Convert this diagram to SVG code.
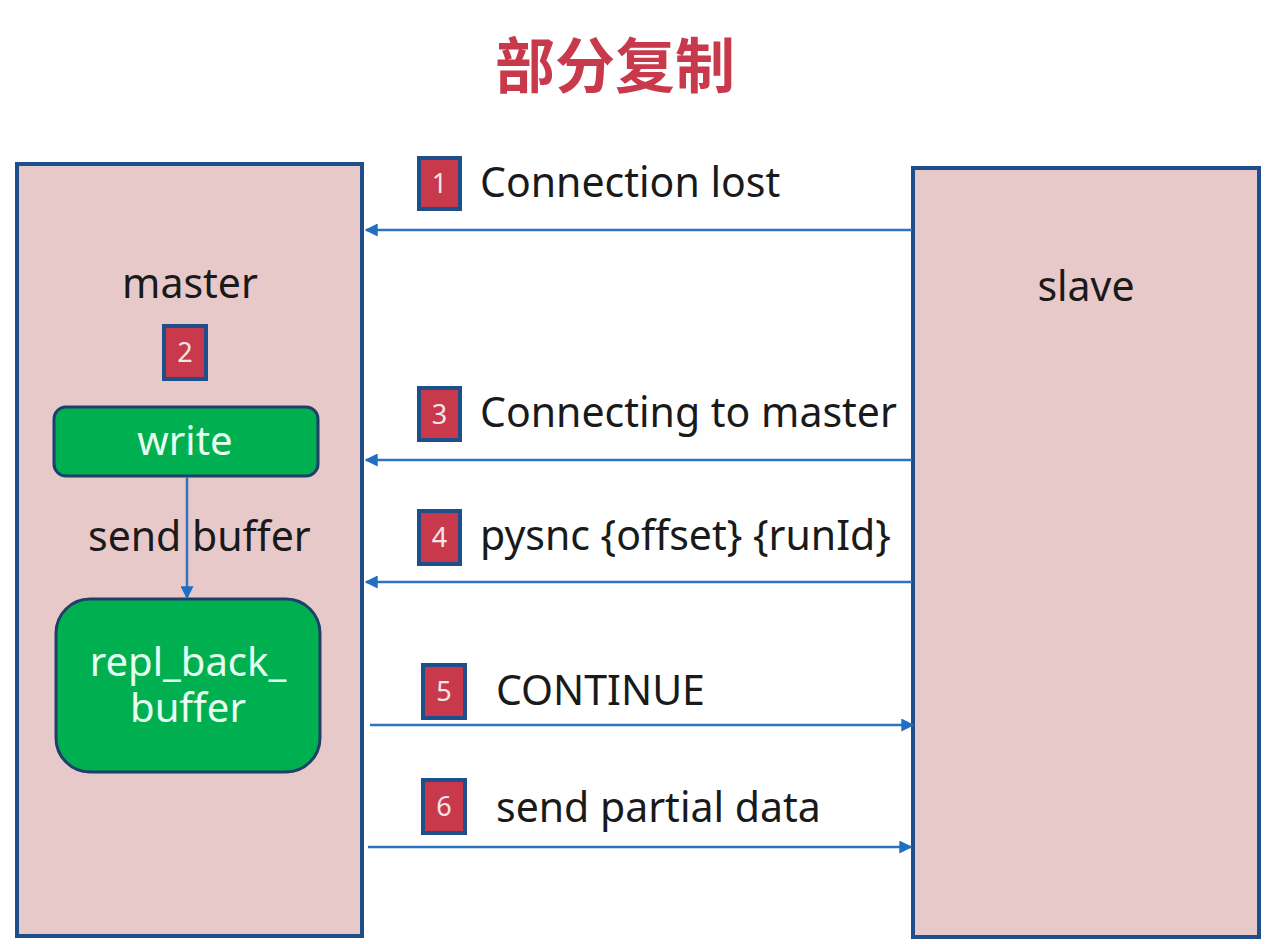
<svg xmlns="http://www.w3.org/2000/svg" width="1269" height="944" viewBox="0 0 1269 944">
<style>
.box{fill:#e8c9ca;stroke:#1f4f8a;stroke-width:4}
.gbox{fill:#00b050;stroke:#1f3f6a;stroke-width:3}
.badge{fill:#c8394b;stroke:#1f4f8a;stroke-width:4}
.bn{font-family:"Noto Sans","Open Sans",sans-serif;font-size:27px;fill:#f4e6e8;text-anchor:middle}
.t{font-family:"Noto Sans","Open Sans",sans-serif;font-size:41px;fill:#1a1a1a}
.w{font-family:"Noto Sans","Open Sans",sans-serif;font-size:40px;fill:#e6fff0;text-anchor:middle}
.ln{stroke:#2e72c0;stroke-width:2.5;fill:none}
</style>
<defs>
<marker id="ahs" viewBox="0 0 10 10" refX="9" refY="5" markerWidth="13" markerHeight="13" orient="auto" markerUnits="userSpaceOnUse">
<path d="M0,0 L10,5 L0,10 z" fill="#1f6fc4"/>
</marker>
</defs>
<rect width="1269" height="944" fill="#ffffff"/>
<text x="615" y="88" text-anchor="middle" font-family="Noto Sans CJK SC, sans-serif" font-size="60" font-weight="bold" fill="#c8394b">部分复制</text>

<g id="master">
<rect class="box" x="17" y="164" width="345" height="772"/>
<text class="t" x="190" y="298" text-anchor="middle">master</text>
</g>
<g id="slave">
<rect class="box" x="913" y="168" width="346" height="769"/>
<text class="t" x="1086" y="301" text-anchor="middle">slave</text>
</g>
<g id="write">
<rect class="gbox" x="54" y="407" width="264" height="69" rx="12"/>
<text class="w" x="185" y="455">write</text>
</g>
<g id="repl_back_buffer">
<rect class="gbox" x="56" y="599" width="264" height="173" rx="34"/>
<text class="w" x="188" y="676">repl_back_</text>
<text class="w" x="188" y="722">buffer</text>
</g>

<g id="badges">
<rect class="badge" x="419" y="158" width="41" height="51"/><text class="bn" x="439.5" y="193">1</text>
<rect class="badge" x="164" y="326" width="42" height="53"/><text class="bn" x="185" y="362">2</text>
<rect class="badge" x="419" y="388" width="41" height="52"/><text class="bn" x="439.5" y="424">3</text>
<rect class="badge" x="419" y="511" width="41" height="53"/><text class="bn" x="439.5" y="547">4</text>
<rect class="badge" x="423" y="665" width="42" height="53"/><text class="bn" x="444" y="701">5</text>
<rect class="badge" x="423" y="780" width="42" height="53"/><text class="bn" x="444" y="816">6</text>
</g>

<g id="labels">
<text class="t" x="480" y="197">Connection lost</text>
<text class="t" x="480" y="427">Connecting to master</text>
<text class="t" x="480" y="550">pysnc {offset} {runId}</text>
<text class="t" x="496" y="705">CONTINUE</text>
<text class="t" x="496" y="822">send partial data</text>
<text class="t" x="88" y="551">send buffer</text>
</g>

<g id="connectors">
<line class="ln" x1="912" y1="230" x2="366" y2="230" marker-end="url(#ahs)"/>
<line class="ln" x1="912" y1="460" x2="366" y2="460" marker-end="url(#ahs)"/>
<line class="ln" x1="912" y1="582" x2="366" y2="582" marker-end="url(#ahs)"/>
<line class="ln" x1="370" y1="725" x2="913" y2="725" marker-end="url(#ahs)"/>
<line class="ln" x1="368" y1="847" x2="911" y2="847" marker-end="url(#ahs)"/>
<line class="ln" x1="187" y1="477" x2="187" y2="598" marker-end="url(#ahs)"/>
</g>
</svg>
